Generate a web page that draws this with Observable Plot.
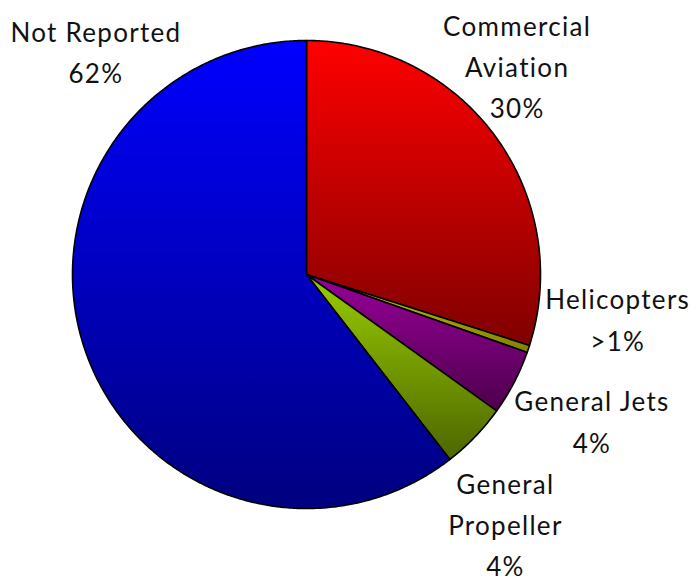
<!DOCTYPE html>
<html>
<head>
<meta charset="utf-8">
<script src="https://cdn.jsdelivr.net/npm/d3@7"></script>
<script src="https://cdn.jsdelivr.net/npm/@observablehq/plot@0.6"></script>
<style>
  html, body { margin: 0; padding: 0; background: #fff; }
  #chart { width: 692px; height: 583px; }
</style>
</head>
<body>
<div id="chart"></div>
<script>
// ---- data ----
const categories = ["Commercial Aviation", "Helicopters", "General Jets", "General Propeller", "Not Reported"];
const values = [29.9, 0.5, 4.5, 4.6, 60.5];
const labels = ["Commercial\nAviation\n30%", "Helicopters\n>1%", "General Jets\n4%", "General\nPropeller\n4%", "Not Reported\n62%"];
const topColors = ["#ff0000", "#cccc00", "#990099", "#99cc00", "#0000ff"];
const bottomColors = ["#800000", "#808000", "#4d004d", "#4d6600", "#000080"];

// label anchor (last-line baseline) in pie-radius units
const labelX = [0.90, 1.33, 1.22, 0.85, -0.90];
const labelY = [0.667, -0.325, -0.761, -1.29, 0.82];

// ---- layout ----
const W = 692, H = 583, cx = 306, cy = 274, R = 234;

const total = d3.sum(values);
const slices = [];
let acc = 0;
values.forEach((v, i) => {
  const a0 = acc / total * 2 * Math.PI;
  acc += v;
  const a1 = acc / total * 2 * Math.PI;
  const pts = [{x: 0, y: 0}];
  const n = Math.max(2, Math.ceil((a1 - a0) / (Math.PI / 360)));
  for (let k = 0; k <= n; ++k) {
    const a = a0 + (a1 - a0) * k / n;
    pts.push({x: Math.sin(a), y: Math.cos(a)});
  }
  pts.push({x: 0, y: 0});
  slices.push({name: categories[i], pts});
});

const labelData = labels.map((t, i) => ({t, x: labelX[i], y: labelY[i]}));

const defsMark = () => {
  const defs = d3.create("svg:defs");
  topColors.forEach((c, i) => {
    const g = defs.append("linearGradient").attr("id", "g" + i)
      .attr("x1", 0).attr("y1", 0).attr("x2", 0).attr("y2", 1);
    g.append("stop").attr("offset", 0).attr("stop-color", c);
    g.append("stop").attr("offset", 1).attr("stop-color", bottomColors[i]);
  });
  return defs.node();
};

const chart = Plot.plot({
  width: W,
  height: H,
  margin: 0,
  x: {domain: [-1, 1], range: [cx - R, cx + R], axis: null},
  y: {domain: [-1, 1], range: [cy + R, cy - R], axis: null},
  style: {fontFamily: "Lato", background: "#fff", overflow: "visible", letterSpacing: "1.3px"},
  marks: [
    defsMark,
    ...slices.map((s, i) => Plot.line(s.pts, {
      x: "x", y: "y",
      fill: `url(#g${i})`,
      stroke: "#000",
      strokeWidth: 1.6,
      strokeLinejoin: "round"
    })),
    Plot.text(labelData, {
      x: "x", y: "y", text: "t",
      lineAnchor: "bottom",
      lineHeight: 1.58,
      textAnchor: "middle",
      fontSize: 26,
      fill: "#111",
      clip: false
    })
  ]
});
document.getElementById("chart").appendChild(chart);
</script>
</body>
</html>
